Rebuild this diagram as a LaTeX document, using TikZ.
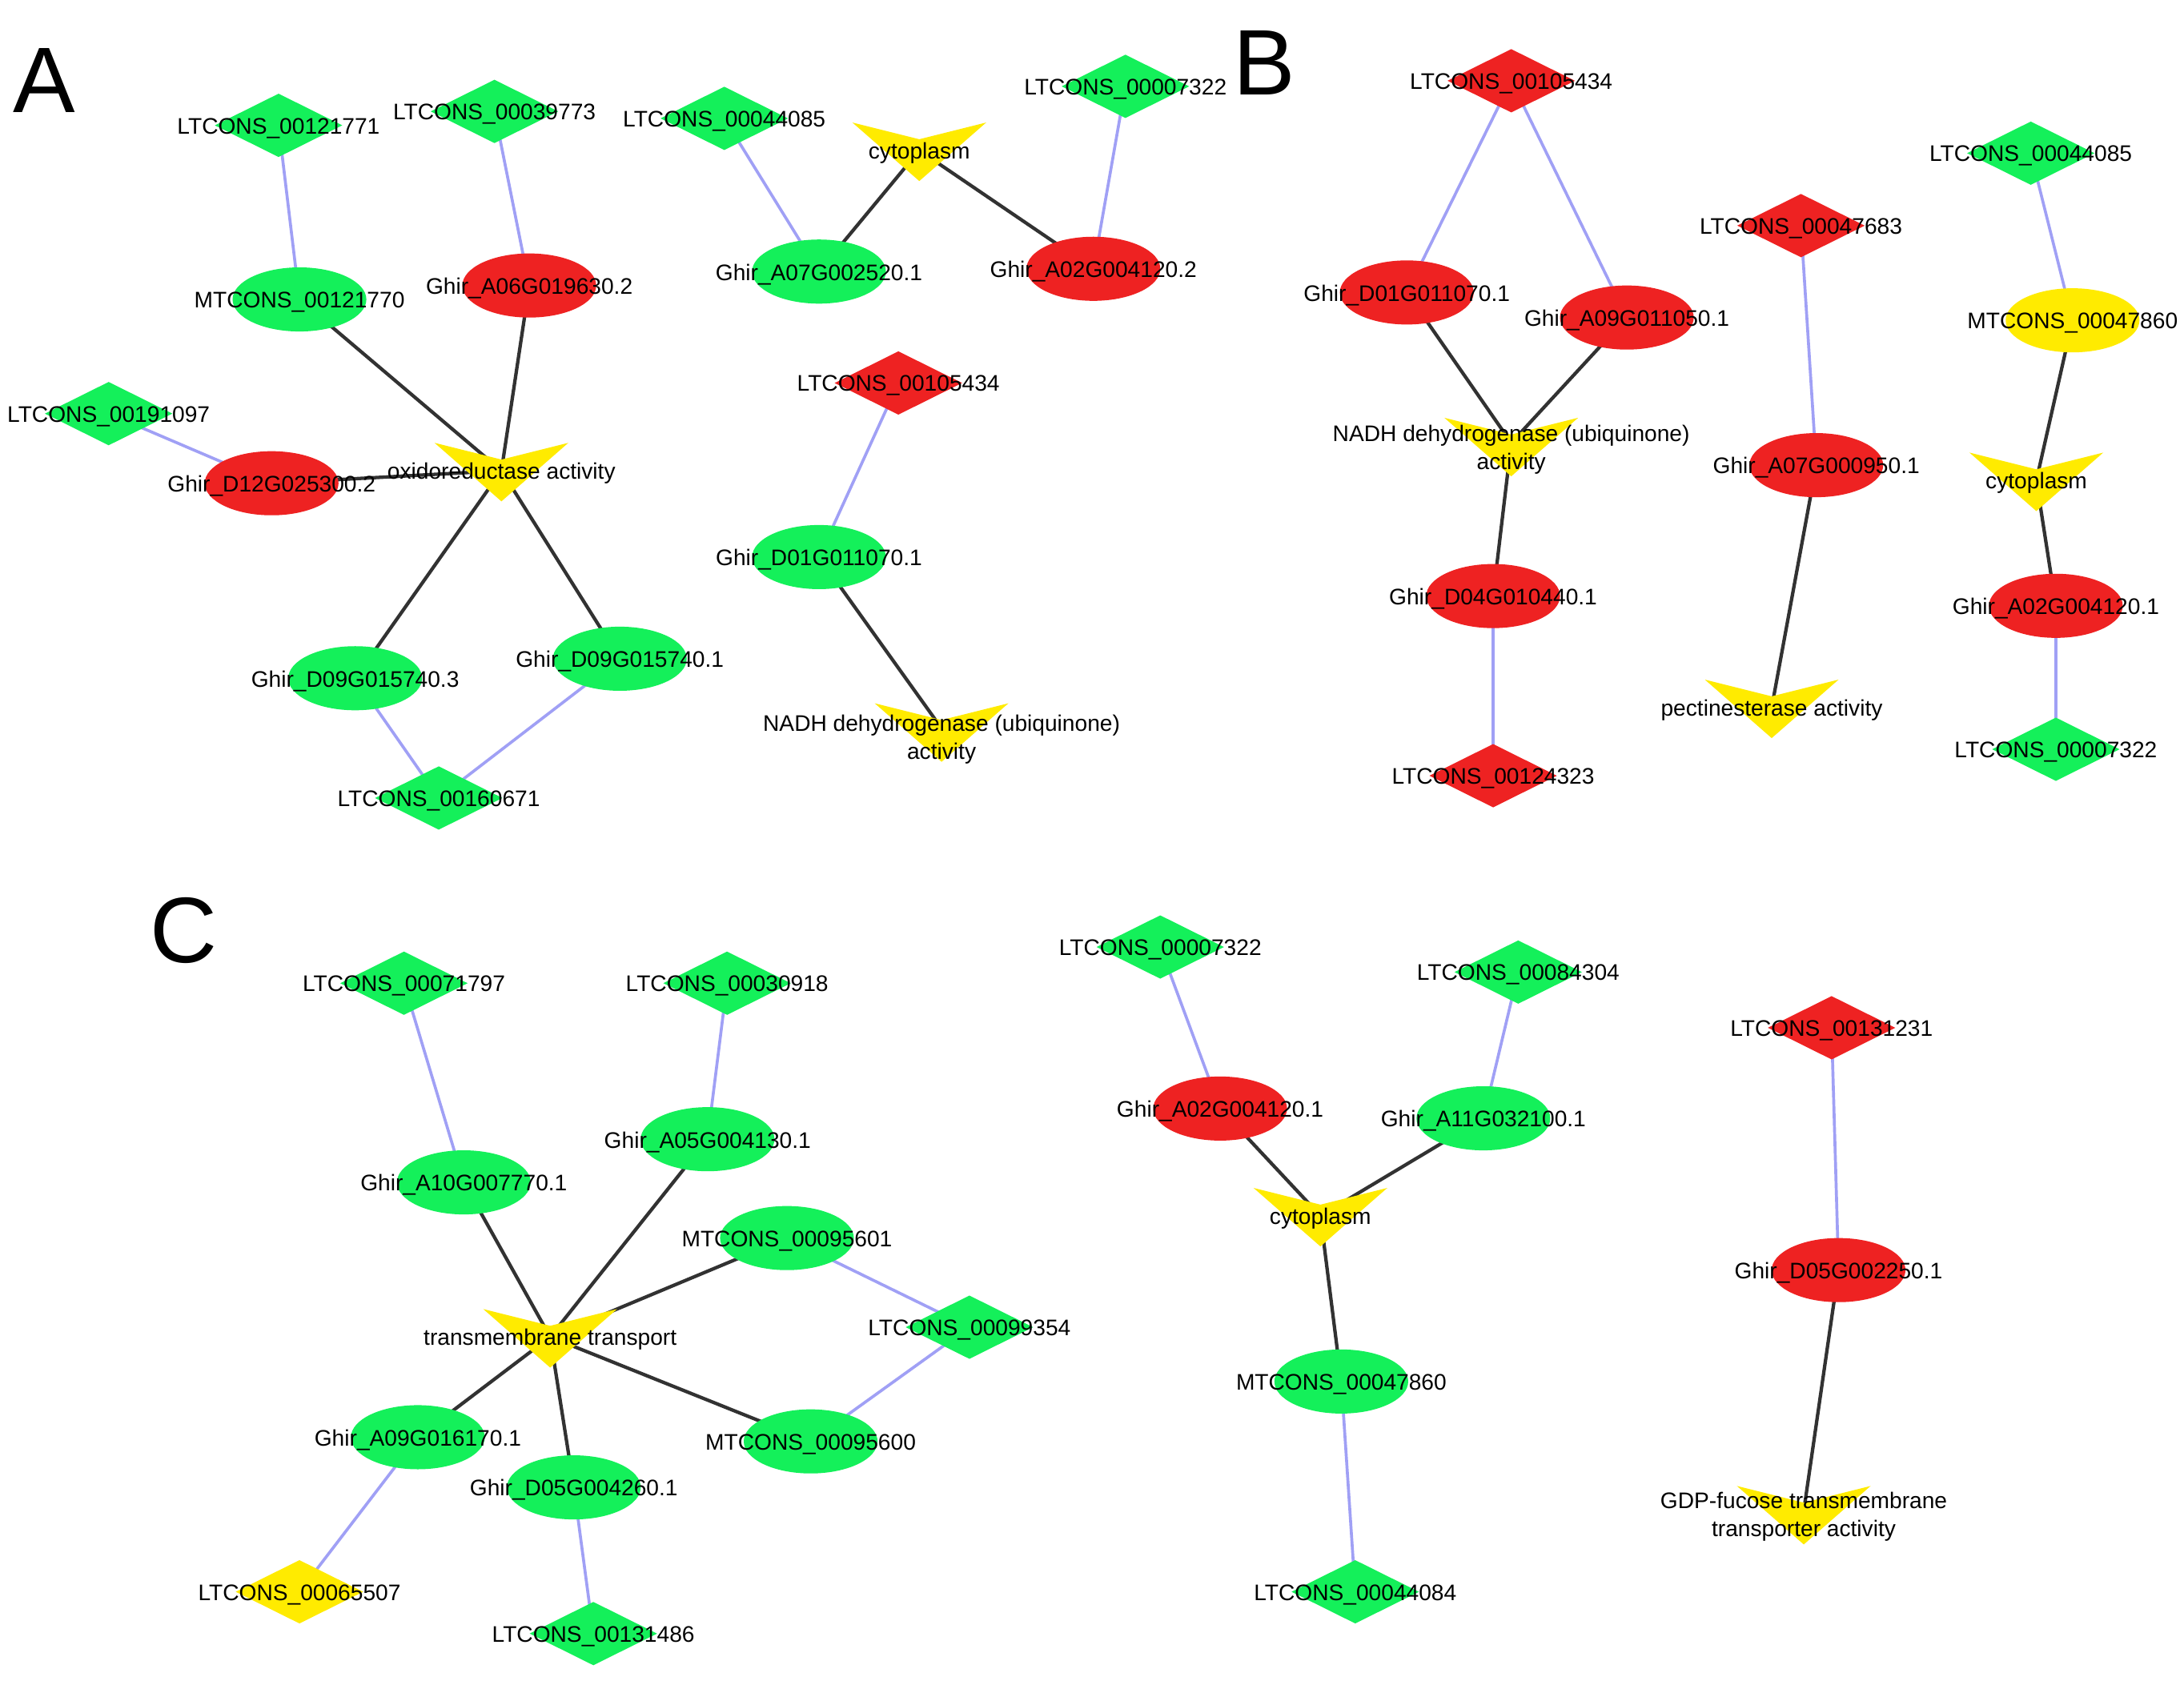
\documentclass[tikz,border=0pt]{standalone}
\usepackage{fontspec}
\setmainfont{Liberation Sans}
\usetikzlibrary{shapes.geometric,calc}
\pgfdeclarelayer{bg}\pgfsetlayers{bg,main}
\definecolor{gn}{RGB}{20,240,90}
\definecolor{rd}{RGB}{238,34,34}
\definecolor{yl}{RGB}{255,235,0}
\definecolor{bl}{RGB}{160,160,245}
\definecolor{dk}{RGB}{50,50,50}
\tikzset{
 lbl/.style={font=\fontsize{4.6}{5.8}\selectfont,inner sep=0,align=center},
 dia/.style={diamond,draw=none,fill=#1,minimum width=0.92cm,minimum height=0.46cm,inner sep=0},
 ell/.style={ellipse,draw=none,fill=#1,minimum width=0.96cm,minimum height=0.46cm,inner sep=0},
 pt/.style={circle,inner sep=0,minimum size=1pt},
 be/.style={draw=bl,line width=0.6pt},
 de/.style={draw=dk,line width=0.7pt},
 big/.style={font=\fontsize{19}{20}\selectfont,inner sep=0}
}
\newcommand\Dia[4]{\node[dia=#3] (#1) at (#2) {}; \node[lbl] at ($(#1)+(0,2)$) {#4};}
\newcommand\Ell[4]{\node[ell=#3] (#1) at (#2) {}; \node[lbl] at ($(#1)+(0,2)$) {#4};}
\newcommand\Vee[3]{\node[pt] (#1) at (#2) {};
 \fill[yl] ($(#1)+(-48,-20)$) -- ($(#1)+(0,-8)$) -- ($(#1)+(48,-20)$) -- ($(#1)+(0,22)$) -- cycle;
 \node[lbl] at ($(#1)+(0,2)$) {#3};}
\begin{document}
\begin{tikzpicture}[x=0.01cm,y=-0.01cm]
\useasboundingbox (0,0) rectangle (1568,1218);
% labels
\node[big] at (32,58) {A};
\node[big] at (908,45) {B};
\node[big] at (132,668) {C};
% Panel A
\Dia{a1}{200,90}{gn}{LTCONS\_00121771}
\Dia{a2}{355,80}{gn}{LTCONS\_00039773}
\Ell{a3}{215,215}{gn}{MTCONS\_00121770}
\Ell{a4}{380,205}{rd}{Ghir\_A06G019630.2}
\Dia{a5}{78,297}{gn}{LTCONS\_00191097}
\Ell{a6}{195,347}{rd}{Ghir\_D12G025300.2}
\Vee{a7}{360,338}{oxidoreductase activity}
\Ell{a8}{255,487}{gn}{Ghir\_D09G015740.3}
\Ell{a9}{445,473}{gn}{Ghir\_D09G015740.1}
\Dia{a10}{315,573}{gn}{LTCONS\_00160671}
\Dia{a11}{520,85}{gn}{LTCONS\_00044085}
\Vee{a12}{660,108}{cytoplasm}
\Dia{a13}{808,62}{gn}{LTCONS\_00007322}
\Ell{a14}{588,195}{gn}{Ghir\_A07G002520.1}
\Ell{a15}{785,193}{rd}{Ghir\_A02G004120.2}
\Dia{a16}{645,275}{rd}{LTCONS\_00105434}
\Ell{a17}{588,400}{gn}{Ghir\_D01G011070.1}
\node[pt] (a18) at (676,523) {};
\fill[yl] (628,505) -- (676,517) -- (724,505) -- (676,547) -- cycle;
\node[lbl] at (676,531) {NADH dehydrogenase (ubiquinone)\\activity};
% Panel B
\Dia{b1}{1085,58}{rd}{LTCONS\_00105434}
\Ell{b2}{1010,210}{rd}{Ghir\_D01G011070.1}
\Ell{b3}{1168,228}{rd}{Ghir\_A09G011050.1}
\node[pt] (b4) at (1085,318) {};
\fill[yl] (1037,300) -- (1085,312) -- (1133,300) -- (1085,342) -- cycle;
\node[lbl] at (1085,323) {NADH dehydrogenase (ubiquinone)\\activity};
\Ell{b5}{1072,428}{rd}{Ghir\_D04G010440.1}
\Dia{b6}{1072,557}{rd}{LTCONS\_00124323}
\Dia{b7}{1293,162}{rd}{LTCONS\_00047683}
\Ell{b8}{1304,334}{rd}{Ghir\_A07G000950.1}
\Vee{b9}{1272,508}{pectinesterase activity}
\Dia{b10}{1458,110}{gn}{LTCONS\_00044085}
\Ell{b11}{1488,230}{yl}{MTCONS\_00047860}
\Vee{b12}{1462,345}{cytoplasm}
\Ell{b13}{1476,435}{rd}{Ghir\_A02G004120.1}
\Dia{b14}{1476,538}{gn}{LTCONS\_00007322}
% Panel C
\Dia{c1}{290,706}{gn}{LTCONS\_00071797}
\Dia{c2}{522,706}{gn}{LTCONS\_00030918}
\Ell{c3}{333,849}{gn}{Ghir\_A10G007770.1}
\Ell{c4}{508,818}{gn}{Ghir\_A05G004130.1}
\Ell{c5}{565,889}{gn}{MTCONS\_00095601}
\Vee{c6}{395,960}{transmembrane transport}
\Dia{c7}{696,953}{gn}{LTCONS\_00099354}
\Ell{c8}{300,1032}{gn}{Ghir\_A09G016170.1}
\Ell{c9}{412,1068}{gn}{Ghir\_D05G004260.1}
\Ell{c10}{582,1035}{gn}{MTCONS\_00095600}
\Dia{c11}{215,1143}{yl}{LTCONS\_00065507}
\Dia{c12}{426,1173}{gn}{LTCONS\_00131486}
\Dia{c13}{833,680}{gn}{LTCONS\_00007322}
\Dia{c14}{1090,698}{gn}{LTCONS\_00084304}
\Ell{c15}{876,796}{rd}{Ghir\_A02G004120.1}
\Ell{c16}{1065,803}{gn}{Ghir\_A11G032100.1}
\Vee{c17}{948,873}{cytoplasm}
\Ell{c18}{963,992}{gn}{MTCONS\_00047860}
\Dia{c19}{973,1143}{gn}{LTCONS\_00044084}
\Dia{c20}{1315,738}{rd}{LTCONS\_00131231}
\Ell{c21}{1320,912}{rd}{Ghir\_D05G002250.1}
\node[pt] (c22) at (1295,1085) {};
\fill[yl] (1247,1067) -- (1295,1079) -- (1343,1067) -- (1295,1109) -- cycle;
\node[lbl] at (1295,1089) {GDP-fucose transmembrane\\transporter activity};
\begin{pgfonlayer}{bg}
\path[be] (a1.center)--(a3.center) (a2.center)--(a4.center) (a5.center)--(a6.center)
 (a8.center)--(a10.center) (a9.center)--(a10.center) (a11.center)--(a14.center)
 (a13.center)--(a15.center) (a16.center)--(a17.center);
\path[de] (a3.center)--(a7) (a4.center)--(a7) (a6.center)--(a7) (a7)--(a8.center) (a7)--(a9.center)
 (a14.center)--(a12) (a12)--(a15.center) (a17.center)--(a18);
\path[be] (b1.center)--(b2.center) (b1.center)--(b3.center) (b5.center)--(b6.center)
 (b7.center)--(b8.center) (b10.center)--(b11.center) (b13.center)--(b14.center);
\path[de] (b2.center)--(b4) (b3.center)--(b4) (b4)--(b5.center) (b8.center)--(b9)
 (b11.center)--(b12) (b12)--(b13.center);
\path[be] (c1.center)--(c3.center) (c2.center)--(c4.center) (c5.center)--(c7.center)
 (c7.center)--(c10.center) (c8.center)--(c11.center) (c9.center)--(c12.center)
 (c13.center)--(c15.center) (c14.center)--(c16.center) (c18.center)--(c19.center)
 (c20.center)--(c21.center);
\path[de] (c3.center)--(c6) (c4.center)--(c6) (c5.center)--(c6) (c6)--(c8.center)
 (c6)--(c9.center) (c6)--(c10.center) (c15.center)--(c17) (c16.center)--(c17)
 (c17)--(c18.center) (c21.center)--(c22);
\end{pgfonlayer}
\end{tikzpicture}
\end{document}
